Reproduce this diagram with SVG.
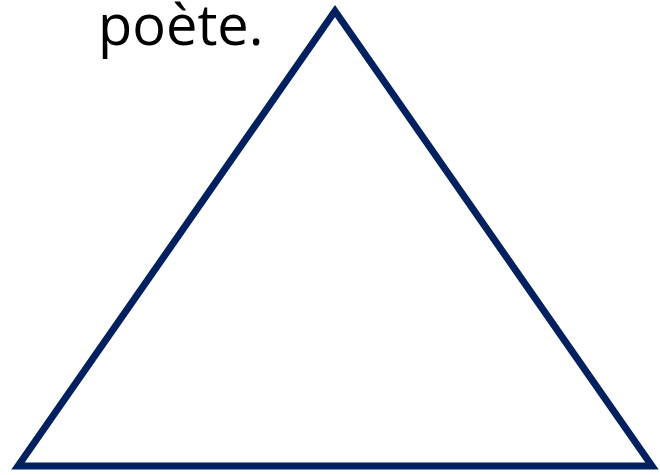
<svg xmlns="http://www.w3.org/2000/svg" width="660" height="475" viewBox="0 0 660 475">
<style>
.lbl{font-family:"Open Sans","Liberation Sans",sans-serif;font-size:56px;fill:#000}
.tri{fill:none;stroke:#002060;stroke-width:7;stroke-linejoin:miter}
</style>
<rect width="660" height="475" fill="#fff"/>
<g id="triangle">
<polygon class="tri" points="335,11 18,466 652,466"/>
</g>
<g id="label">
<text class="lbl" x="98" y="45">poète.</text>
</g>
</svg>
